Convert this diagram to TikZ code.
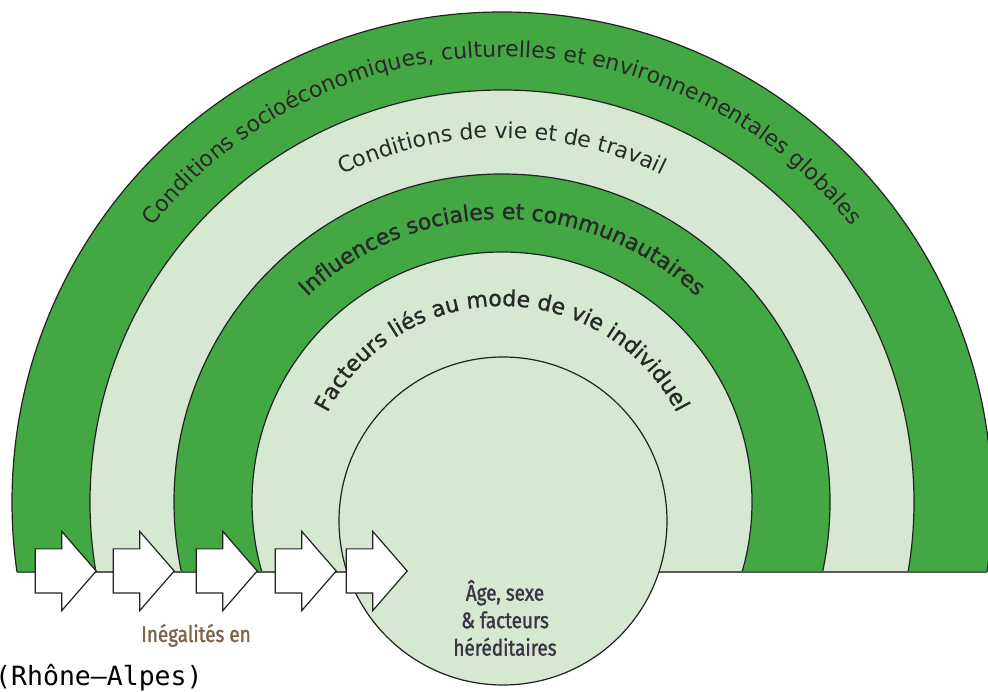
\documentclass[tikz,border=0pt]{standalone}
\usepackage{fontspec}
\usetikzlibrary{shapes.arrows,decorations.text}
\newfontfamily\bandfont{DejaVu Sans}
\newfontfamily\bandheavyfont[FakeBold=1.1]{DejaVu Sans}
\newfontfamily\narrowfont[FakeStretch=0.84,FakeBold=1.4]{Fira Sans}
\newfontfamily\sourcefont{DejaVu Sans Mono}
\tikzset{
  ring/.style={draw=lineColor,line width=1.2pt},
  bandtext/.style={decorate,decoration={text along path,text align=center,text color=textColor}},
  ineqarrow/.style={shape=single arrow,draw=lineColor,fill=white,line width=1.2pt,inner sep=0pt,
    text height=21.5pt,text depth=21.5pt,minimum height=61pt,minimum width=78pt,
    single arrow head extend=17.5pt,single arrow tip angle=98,anchor=tip},
  smalltext/.style={font=\narrowfont\fontsize{22.5}{27.5}\selectfont,inner sep=0pt}
}
\begin{document}
\begin{tikzpicture}[x=1pt,y=1pt]
\definecolor{darkGreen}{RGB}{67,168,67}
\definecolor{lightGreen}{RGB}{214,232,210}
\definecolor{lineColor}{RGB}{34,34,34}
\definecolor{textColor}{RGB}{40,40,40}
\definecolor{coreText}{RGB}{60,52,70}
\definecolor{ineqText}{RGB}{125,100,72}
\path[use as bounding box,fill=white] (0,0) rectangle (988,691);
\coordinate (centre) at (502,189);

\begin{scope}
\path[clip] (0,119) rectangle (988,691);
\path[ring,fill=darkGreen] (centre) circle[radius=490pt];
\path[ring,fill=lightGreen] (centre) circle[radius=412pt];
\path[ring,fill=darkGreen] (centre) circle[radius=328pt];
\path[ring,fill=lightGreen] (centre) circle[radius=250pt];
\end{scope}
\path[draw=lineColor!75,line width=1.6pt] (17,119) -- (987,119);

\node[circle,ring,fill=lightGreen,minimum size=328pt,inner sep=0pt] (core) at (503,170) {};

\path[bandtext,decoration={text={|\bandfont\fontsize{22}{22}\selectfont|Conditions socioéconomiques, culturelles et environnementales globales}}]
  (centre) ++(180:445) arc[start angle=180,end angle=0,radius=445pt];
\path[bandtext,decoration={text={|\bandfont\fontsize{22}{22}\selectfont|Conditions de vie et de travail}}]
  (centre) ++(180:364) arc[start angle=180,end angle=0,radius=364pt];
\path[bandtext,decoration={text={|\bandheavyfont\fontsize{22}{22}\selectfont|Influences sociales et communautaires}}]
  (centre) ++(180:283) arc[start angle=180,end angle=0,radius=283pt];
\path[bandtext,decoration={text={|\bandheavyfont\fontsize{22}{22}\selectfont|Facteurs liés au mode de vie individuel}}]
  (centre) ++(180:196) arc[start angle=180,end angle=0,radius=196pt];

\foreach \x [count=\i] in {97,175,258,337,408}
  \node[ineqarrow] (arrow\i) at (\x,120) {};

\node[smalltext,text=coreText,align=center] (heredity) at (505,73) {Âge, sexe\\\& facteurs\\héréditaires};
\node[smalltext,text=ineqText,anchor=base] (ineq) at (196,49) {Inégalités en};
\node[font=\sourcefont\fontsize{26.5}{30}\selectfont,anchor=base west,inner sep=0pt] (region) at (-5,6) {(Rhône–Alpes)};
\end{tikzpicture}
\end{document}
